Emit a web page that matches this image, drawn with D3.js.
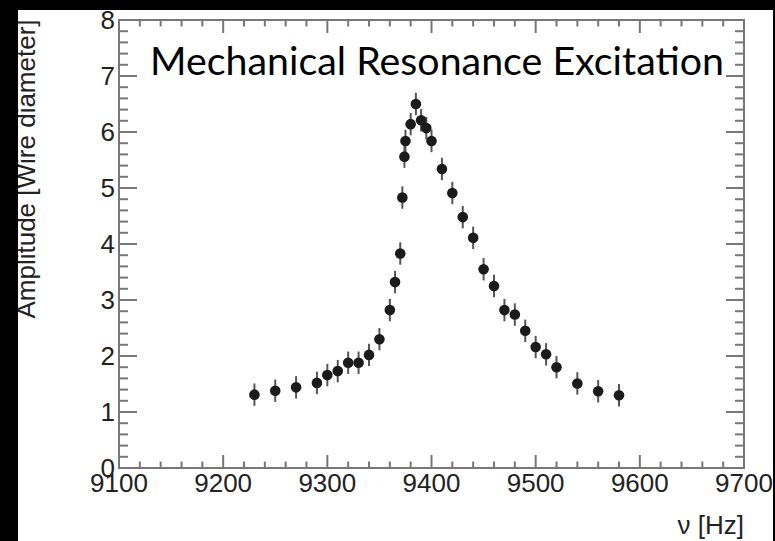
<!DOCTYPE html>
<html>
<head>
<meta charset="utf-8">
<script src="https://cdn.jsdelivr.net/npm/d3@7"></script>
<style>
  body { margin: 0; background: #000; }
  svg { display: block; }
</style>
</head>
<body>
<div id="chart"></div>
<script>
// measured points: excitation frequency [Hz] and amplitude [wire diameters]
const freq = [9230, 9250, 9270, 9290, 9300, 9310, 9320, 9330, 9340, 9350,
              9360, 9365, 9370, 9372, 9374, 9375, 9380, 9385, 9390, 9395,
              9400, 9410, 9420, 9430, 9440, 9450, 9460, 9470, 9480, 9490,
              9500, 9510, 9520, 9540, 9560, 9580];
const amp = [1.31, 1.38, 1.44, 1.52, 1.66, 1.73, 1.88, 1.88, 2.02, 2.30,
             2.82, 3.32, 3.83, 4.83, 5.56, 5.84, 6.14, 6.50, 6.21, 6.07,
             5.84, 5.34, 4.91, 4.48, 4.11, 3.55, 3.25, 2.82, 2.74, 2.45,
             2.16, 2.03, 1.80, 1.51, 1.37, 1.30];
const ampErr = [0.2, 0.2, 0.2, 0.2, 0.2, 0.2, 0.2, 0.2, 0.2, 0.2,
                0.2, 0.2, 0.2, 0.2, 0.2, 0.2, 0.2, 0.2, 0.2, 0.2,
                0.2, 0.2, 0.2, 0.2, 0.2, 0.2, 0.2, 0.2, 0.2, 0.2,
                0.2, 0.2, 0.2, 0.2, 0.2, 0.2];
const xTicks = [9100, 9200, 9300, 9400, 9500, 9600, 9700];
const yTicks = [0, 1, 2, 3, 4, 5, 6, 7, 8];

const width = 775, height = 541;
const plot = { left: 119, right: 744, top: 20, bottom: 468 };

const x = d3.scaleLinear().domain([9100, 9700]).range([plot.left, plot.right]);
const y = d3.scaleLinear().domain([0, 8]).range([plot.bottom, plot.top]);

const svg = d3.select('#chart').append('svg')
    .attr('width', width)
    .attr('height', height);

svg.append('rect')
    .attr('width', width).attr('height', height)
    .attr('fill', '#fff');

const axisColor = '#777';
const labelFont = '"Liberation Sans", Arial, Helvetica, sans-serif';

// frame
svg.append('rect')
    .attr('x', plot.left).attr('y', plot.top)
    .attr('width', plot.right - plot.left)
    .attr('height', plot.bottom - plot.top)
    .attr('fill', 'none')
    .attr('stroke', axisColor)
    .attr('stroke-width', 2);

// ticks, ROOT style: drawn inside the frame on all four sides
const xMinor = d3.range(9100, 9701, 20);
const yMinor = d3.range(0, 41).map(i => i * 0.2);
const ticks = svg.append('g').attr('stroke', axisColor).attr('stroke-width', 2);

xMinor.forEach(v => {
    const major = v % 100 === 0;
    const len = major ? 13 : 6.5;
    ticks.append('line')
        .attr('x1', x(v)).attr('x2', x(v))
        .attr('y1', plot.bottom).attr('y2', plot.bottom - len);
    ticks.append('line')
        .attr('x1', x(v)).attr('x2', x(v))
        .attr('y1', plot.top).attr('y2', plot.top + len);
});
yMinor.forEach((v, i) => {
    const major = i % 5 === 0;
    const len = major ? 18 : 9;
    ticks.append('line')
        .attr('x1', plot.left).attr('x2', plot.left + len)
        .attr('y1', y(v)).attr('y2', y(v));
    ticks.append('line')
        .attr('x1', plot.right).attr('x2', plot.right - len)
        .attr('y1', y(v)).attr('y2', y(v));
});

// tick labels
svg.append('g')
    .selectAll('text')
    .data(xTicks)
    .join('text')
    .attr('x', d => x(d))
    .attr('y', 492)
    .attr('text-anchor', 'middle')
    .attr('font-family', labelFont)
    .attr('font-size', 26)
    .attr('fill', '#222')
    .text(d => d);

svg.append('g')
    .selectAll('text')
    .data(yTicks)
    .join('text')
    .attr('x', plot.left - 4)
    .attr('y', d => y(d) + 9.3)
    .attr('text-anchor', 'end')
    .attr('font-family', labelFont)
    .attr('font-size', 26)
    .attr('fill', '#222')
    .text(d => d);

// axis titles
svg.append('text')
    .attr('transform', 'translate(35,169) rotate(-90)')
    .attr('text-anchor', 'middle')
    .attr('font-family', labelFont)
    .attr('font-size', 26)
    .attr('fill', '#222')
    .text('Amplitude [Wire diameter]');

svg.append('text')
    .attr('x', plot.right)
    .attr('y', 534)
    .attr('text-anchor', 'end')
    .attr('font-family', labelFont)
    .attr('font-size', 26)
    .attr('fill', '#222')
    .text('ν [Hz]');

// data with error bars
const pts = freq.map((f, i) => ({ f: f, a: amp[i], e: ampErr[i] }));

svg.append('g')
    .attr('stroke', '#555')
    .attr('stroke-width', 2)
    .selectAll('line')
    .data(pts)
    .join('line')
    .attr('x1', d => x(d.f)).attr('x2', d => x(d.f))
    .attr('y1', d => y(d.a - d.e)).attr('y2', d => y(d.a + d.e));

svg.append('g')
    .selectAll('circle')
    .data(pts)
    .join('circle')
    .attr('cx', d => x(d.f))
    .attr('cy', d => y(d.a))
    .attr('r', 5.3)
    .attr('fill', '#1b1b1b');

// slide title
svg.append('text')
    .attr('x', 150)
    .attr('y', 75)
    .attr('font-family', 'Lato, "Open Sans", sans-serif')
    .attr('font-size', 38)
    .attr('textLength', 574)
    .attr('lengthAdjust', 'spacingAndGlyphs')
    .attr('fill', '#000')
    .text('Mechanical Resonance Excitation');

// black slide border
svg.append('rect').attr('x', 0).attr('y', 0).attr('width', 18).attr('height', height).attr('fill', '#000');
svg.append('rect').attr('x', 0).attr('y', 0).attr('width', width).attr('height', 10).attr('fill', '#000');
svg.append('rect').attr('x', 773).attr('y', 0).attr('width', 2).attr('height', height).attr('fill', '#000');
</script>
</body>
</html>
